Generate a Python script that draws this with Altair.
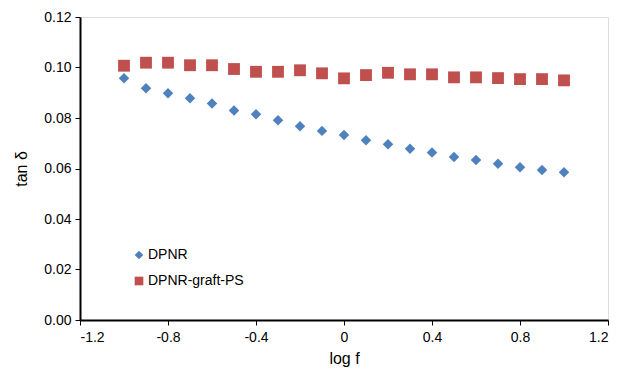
import altair as alt
import pandas as pd

log_f = [-1.0, -0.9, -0.8, -0.7, -0.6, -0.5, -0.4, -0.3, -0.2, -0.1, 0.0,
         0.1, 0.2, 0.3, 0.4, 0.5, 0.6, 0.7, 0.8, 0.9, 1.0]
dpnr = [0.0957, 0.0918, 0.0898, 0.0878, 0.0857, 0.0830, 0.0815, 0.0791, 0.0767, 0.0749, 0.0733,
        0.0712, 0.0696, 0.0678, 0.0663, 0.0646, 0.0634, 0.0619, 0.0605, 0.0594, 0.0585]
graft = [0.1007, 0.1019, 0.1019, 0.1009, 0.1009, 0.0994, 0.0983, 0.0983, 0.0989, 0.0977, 0.0957,
         0.0970, 0.0979, 0.0973, 0.0973, 0.0961, 0.0961, 0.0958, 0.0954, 0.0954, 0.0949]
series = ["DPNR", "DPNR-graft-PS"]
colors = ["#4F81BD", "#C0504D"]
shapes = ["diamond", "square"]

df = pd.DataFrame({
    "log f": log_f * 2,
    "tan": dpnr + graft,
    "series": [series[0]] * len(log_f) + [series[1]] * len(log_f),
})

font = "Liberation Sans"

base = alt.Chart(df).encode(
    x=alt.X("log f:Q", title="log f",
            scale=alt.Scale(domain=[-1.2, 1.2], nice=False, zero=False),
            axis=alt.Axis(values=[-1.2, -0.8, -0.4, 0, 0.4, 0.8, 1.2],
                          labelExpr="datum.value == 0 ? '0' : replace(format(datum.value, '.1f'), '\u2212', '-')",
                          grid=False, domainColor="black", domainWidth=2,
                          tickColor="black", tickSize=5, tickWidth=1,
                          labelFontSize=14, labelColor="black", labelFont=font,
                          labelPadding=5, titleFontSize=16, titleFont=font,
                          titleFontWeight="normal", titleColor="black", titlePadding=6)),
    y=alt.Y("tan:Q", title="tan δ",
            scale=alt.Scale(domain=[0, 0.12], nice=False),
            axis=alt.Axis(values=[0, 0.02, 0.04, 0.06, 0.08, 0.10, 0.12], format=".2f",
                          grid=False, domainColor="black", domainWidth=2,
                          tickColor="black", tickSize=5, tickWidth=1,
                          labelFontSize=14, labelColor="black", labelFont=font,
                          labelPadding=4, titleFontSize=16, titleFont=font,
                          titleFontWeight="normal", titleColor="black", titlePadding=14)),
)

dia = base.transform_filter(alt.datum.series == series[0]).mark_point(
    shape="diamond", filled=True, size=110, opacity=1
).encode(
    color=alt.Color("series:N", scale=alt.Scale(domain=series, range=colors),
                    legend=alt.Legend(title=None, orient="none", legendX=52, legendY=231,
                                      symbolSize=75, labelFontSize=14, labelFont=font,
                                      labelColor="black", rowPadding=12, labelOffset=2,
                                      symbolStrokeWidth=0)),
    shape=alt.Shape("series:N", scale=alt.Scale(domain=series, range=shapes)),
)

sq = base.transform_filter(alt.datum.series == series[1]).mark_point(
    shape="square", filled=True, size=140, opacity=1
).encode(
    color=alt.Color("series:N", scale=alt.Scale(domain=series, range=colors)),
    shape=alt.Shape("series:N", scale=alt.Scale(domain=series, range=shapes)),
)

chart = alt.layer(dia, sq).properties(
    width=528, height=303,
    autosize=alt.AutoSizeParams(type="none"),
    padding={"left": 80, "top": 17, "right": 14, "bottom": 51},
).configure_view(stroke="black", strokeWidth=1).configure(background="white")

chart.save("out.html", embed_options={"renderer": "svg", "actions": False})
